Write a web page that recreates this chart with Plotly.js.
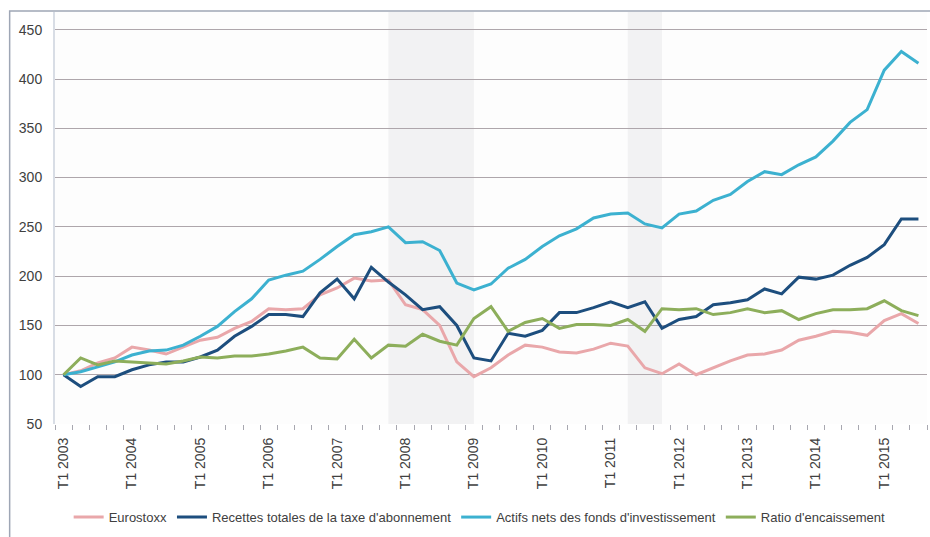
<!DOCTYPE html>
<html>
<head>
<meta charset="utf-8">
<script src="https://cdn.plot.ly/plotly-3.0.1.min.js"></script>
<style>html,body{margin:0;padding:0;background:#fff;}#chart{width:930px;height:537px;}</style>
</head>
<body>
<div id="chart"></div>
<script>
const quarters = [
 "T1 2003","T2 2003","T3 2003","T4 2003",
 "T1 2004","T2 2004","T3 2004","T4 2004",
 "T1 2005","T2 2005","T3 2005","T4 2005",
 "T1 2006","T2 2006","T3 2006","T4 2006",
 "T1 2007","T2 2007","T3 2007","T4 2007",
 "T1 2008","T2 2008","T3 2008","T4 2008",
 "T1 2009","T2 2009","T3 2009","T4 2009",
 "T1 2010","T2 2010","T3 2010","T4 2010",
 "T1 2011","T2 2011","T3 2011","T4 2011",
 "T1 2012","T2 2012","T3 2012","T4 2012",
 "T1 2013","T2 2013","T3 2013","T4 2013",
 "T1 2014","T2 2014","T3 2014","T4 2014",
 "T1 2015","T2 2015","T3 2015"
];

const eurostoxx = [100,104,112,117,128,125,121,128,135,138,147,154,167,166,167,181,
 188,198,195,196,171,166,150,113,98,107,120,130,128,123,122,126,132,129,107,101,
 111,100,107,114,120,121,125,135,139,144,143,140,155,162,152];

const recettes = [100,88,98,98,105,110,113,113,118,125,139,149,161,161,159,183,
 197,177,209,194,181,166,169,150,117,114,142,139,145,163,163,168,174,168,174,147,
 156,159,171,173,176,187,182,199,197,201,211,219,232,258,258];

const actifs = [100,103,108,113,120,124,125,130,139,149,164,177,196,201,205,217,
 230,242,245,250,234,235,226,193,186,192,208,217,230,241,248,259,263,264,253,249,
 263,266,277,283,296,306,303,313,321,337,356,369,409,428,416];

const ratio = [100,117,110,114,113,112,111,114,118,117,119,119,121,124,128,117,
 116,136,117,130,129,141,134,130,157,169,144,153,157,147,151,151,150,156,144,167,
 166,167,161,163,167,163,165,156,162,166,166,167,175,165,160];

const seriesNames = ["Eurostoxx","Recettes totales de la taxe d'abonnement",
 "Actifs nets des fonds d'investissement","Ratio d'encaissement"];
const seriesColors = ["#e9a7aa","#1d4e7e","#3cb1d0","#8dae5b"];

const shadeStart = ["T4 2007","T2 2011"];
const shadeEnd = ["T1 2009","T4 2011"];

const yTicks = [50,100,150,200,250,300,350,400,450];

const allSeries = [eurostoxx, recettes, actifs, ratio];
const traces = allSeries.map((vals, k) => ({
  x: quarters, y: vals, type: "scatter", mode: "lines",
  name: seriesNames[k],
  line: {color: seriesColors[k], width: 3}
}));

const shapes = shadeStart.map((s, k) => ({
  type: "rect", xref: "x", yref: "paper", x0: s, x1: shadeEnd[k], y0: 0, y1: 1,
  fillcolor: "#f2f2f3", line: {width: 0}, layer: "below"
}));
shapes.push({type: "rect", xref: "paper", yref: "paper", x0: -0.052, x1: 1.2, y0: -0.6, y1: 1.0025,
  line: {color: "#9ea6b5", width: 1.5}, fillcolor: "rgba(0,0,0,0)", layer: "above"});

const layout = {
  width: 930, height: 537,
  margin: {l: 54.5, r: 3, t: 12, b: 113},
  paper_bgcolor: "#ffffff", plot_bgcolor: "#fdfdfd",
  showlegend: true,
  legend: {orientation: "h", x: 0.487, xanchor: "center", y: -0.226, yanchor: "middle",
    font: {family: "Liberation Sans, Arial, sans-serif", size: 13, color: "#404040"},
    itemwidth: 30, tracegroupgap: 0},
  xaxis: {
    type: "category", range: [-0.5, quarters.length - 0.5],
    tickmode: "array", tickvals: quarters,
    ticktext: quarters.map(q => q.startsWith("T1") ? q : ""),
    tickson: "boundaries", ticks: "outside", ticklen: 5, tickcolor: "#a8a8b0",
    ticklabelstandoff: 10,
    tickangle: -90, showgrid: false, showline: false, zeroline: false,
    tickfont: {family: "Liberation Sans, Arial, sans-serif", size: 14, color: "#404040"}
  },
  yaxis: {
    range: [50, 468], tickmode: "array", tickvals: yTicks,
    showgrid: true, gridcolor: "#aea6ab", gridwidth: 1,
    zeroline: false, showline: true, linecolor: "#d8dde5", linewidth: 2,
    ticks: "", ticklen: 0, ticklabelstandoff: 8,
    tickfont: {family: "Liberation Sans, Arial, sans-serif", size: 14, color: "#404040"}
  },
  shapes: shapes
};

Plotly.newPlot("chart", traces, layout, {displayModeBar: false, staticPlot: true});
</script>
</body>
</html>
